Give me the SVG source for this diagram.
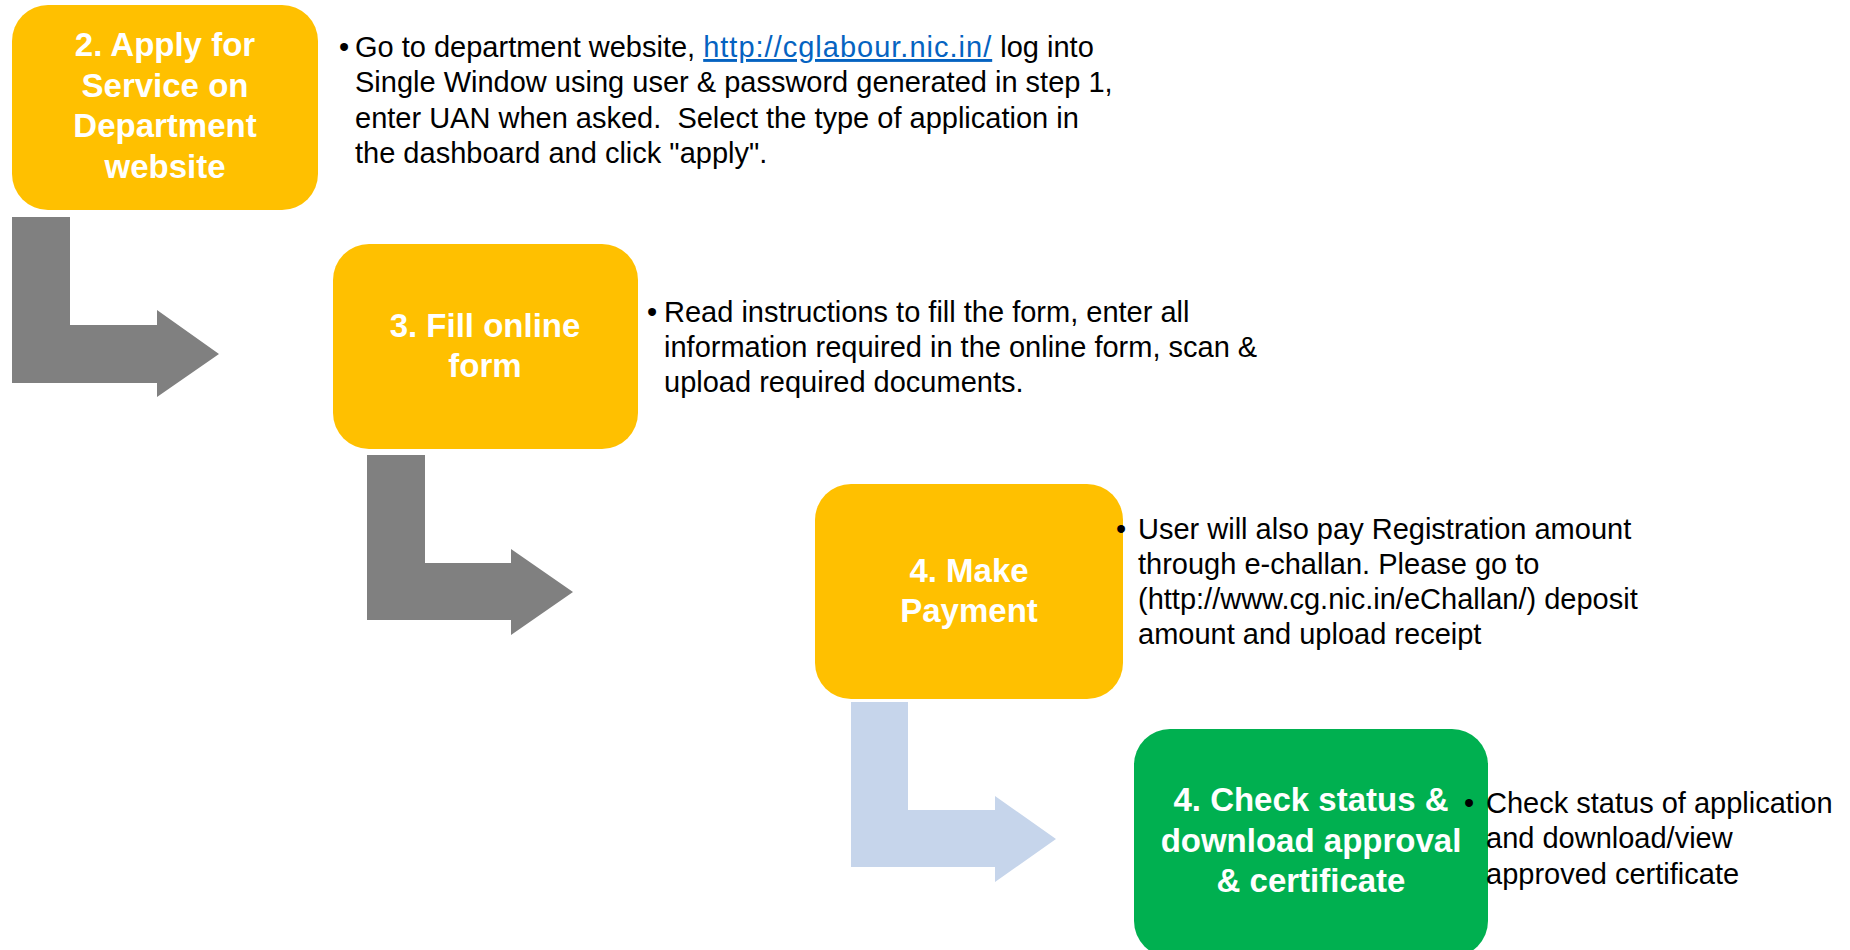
<svg xmlns="http://www.w3.org/2000/svg" width="1850" height="950" viewBox="0 0 1850 950">
<style>
.box{fill:#FFC000}
.boxg{fill:#00B050}
.title{font-family:"Liberation Sans",Arial,sans-serif;font-weight:bold;font-size:33px;fill:#FFFFFF;text-anchor:middle}
.body{font-family:"Liberation Sans",Arial,sans-serif;font-size:29px;fill:#000000}
.link{fill:#0563C1;text-decoration:underline}
.arr{fill:#808080}
.arrl{fill:#C6D5EB}
</style>
<rect width="1850" height="950" fill="#FFFFFF"/>
<g id="connectors">
<polygon class="arr" points="12,217 70,217 70,325 157,325 157,310 219,354 157,397 157,383 12,383"/>
<polygon class="arr" points="367,455 425,455 425,563 511,563 511,549 573,592 511,635 511,620 367,620"/>
<polygon class="arrl" points="851,702 908,702 908,810 995,810 995,796 1056,839 995,882 995,867 851,867"/>
</g>
<g id="node-apply">
<rect class="box" x="12" y="5" width="306" height="205" rx="36"/>
<text class="title" x="165" y="56">2. Apply for</text>
<text class="title" x="165" y="97">Service on</text>
<text class="title" x="165" y="137">Department</text>
<text class="title" x="165" y="178">website</text>
</g>
<g id="desc-apply" class="body">
<text x="339" y="57">•</text>
<text x="355" y="57">Go to department website, <tspan class="link" letter-spacing="1">http://cglabour.nic.in/</tspan> log into</text>
<text x="355" y="92">Single Window using user &amp; password generated in step 1,</text>
<text x="355" y="127.5">enter UAN when asked.&#160; Select the type of application in</text>
<text x="355" y="163">the dashboard and click "apply".</text>
</g>
<g id="node-fill">
<rect class="box" x="333" y="244" width="305" height="205" rx="36"/>
<text class="title" x="485" y="337">3. Fill online</text>
<text class="title" x="485" y="377">form</text>
</g>
<g id="desc-fill" class="body">
<text x="647" y="322">•</text>
<text x="664" y="322">Read instructions to fill the form, enter all</text>
<text x="664" y="357">information required in the online form, scan &amp;</text>
<text x="664" y="392">upload required documents.</text>
</g>
<g id="node-payment">
<rect class="box" x="815" y="484" width="308" height="215" rx="36"/>
<text class="title" x="969" y="582">4. Make</text>
<text class="title" x="969" y="622">Payment</text>
</g>
<g id="desc-payment" class="body">
<text x="1116" y="539">•</text>
<text x="1138" y="539">User will also pay Registration amount</text>
<text x="1138" y="574">through e-challan. Please go to</text>
<text x="1138" y="609">(http://www.cg.nic.in/eChallan/) deposit</text>
<text x="1138" y="644">amount and upload receipt</text>
</g>
<g id="node-status">
<rect class="boxg" x="1134" y="729" width="354" height="228" rx="36"/>
<text class="title" x="1311" y="811">4. Check status &amp;</text>
<text class="title" x="1311" y="852">download approval</text>
<text class="title" x="1311" y="892">&amp; certificate</text>
</g>
<g id="desc-status" class="body">
<text x="1464" y="813">•</text>
<text x="1486" y="813">Check status of application</text>
<text x="1486" y="848">and download/view</text>
<text x="1486" y="884">approved certificate</text>
</g>
</svg>
